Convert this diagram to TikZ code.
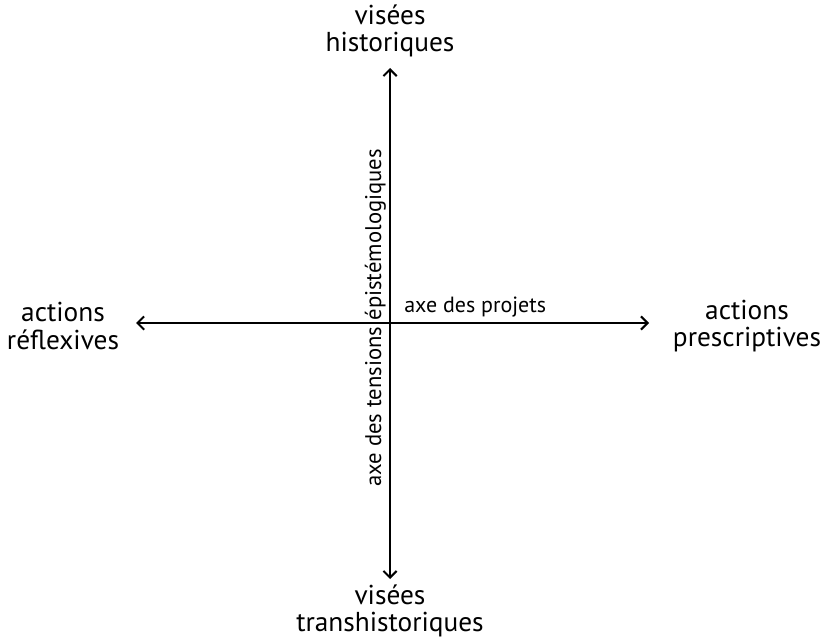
\documentclass[tikz,border=0pt]{standalone}
\usepackage{fontspec}
\setmainfont{PT Sans}
\usetikzlibrary{arrows.meta}
\begin{document}
\begin{tikzpicture}[x=0.75pt,y=-0.75pt,
  axis/.style={line width=1.8pt,{Straight Barb[length=5pt,width=10pt,line width=1.5pt]}-{Straight Barb[length=5pt,width=10pt,line width=1.5pt]}},
  pole/.style={align=center,font=\fontsize{20.5}{20.5}\selectfont,inner sep=0pt},
  axlabel/.style={font=\fontsize{16.5}{18}\selectfont,inner sep=0pt}]
\useasboundingbox (0,0) rectangle (821,638);
\coordinate (c) at (390,323);
\coordinate (t) at (390,68);
\coordinate (b) at (390,579);
\coordinate (l) at (136,323);
\coordinate (r) at (649,323);
\draw[axis] (t) -- (b);
\draw[axis] (l) -- (r);
\node[pole] (top) at (390,31) {visées\\historiques};
\node[pole] (bot) at (390,611) {visées\\transhistoriques};
\node[pole] (left) at (63,326) {actions\\réflexives};
\node[pole] (right) at (747,326) {actions\\prescriptives};
\node[axlabel,anchor=base west] (hx) at (404,312) {axe des projets};
\node[axlabel,rotate=90,anchor=base,font=\fontsize{17}{18}\selectfont] (vx) at (381,318) {axe des tensions épistémologiques};
\end{tikzpicture}
\end{document}
